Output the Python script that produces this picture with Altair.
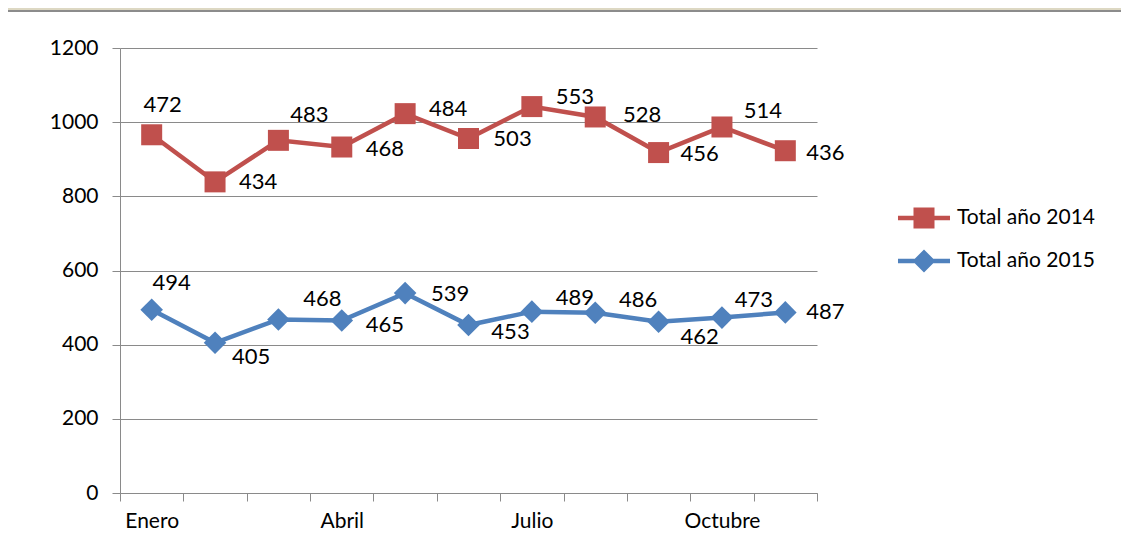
import json
import altair as alt
import pandas as pd

# ---------------- data ----------------
months = ["Enero", "Febrero", "Marzo", "Abril", "Mayo", "Junio",
          "Julio", "Agosto", "Septiembre", "Octubre", "Noviembre"]
total_2014 = [472, 434, 483, 468, 484, 503, 553, 528, 456, 514, 436]
total_2015 = [494, 405, 468, 465, 539, 453, 489, 486, 462, 473, 487]
series = ["Total año 2014", "Total año 2015"]
y_ticks = [0, 200, 400, 600, 800, 1000, 1200]
x_labelled = [0, 3, 6, 9]

# ---------------- layout / style ----------------
W, H = 697, 445
YMAX = 1200
COLORS = ["#c0504d", "#4f81bd"]
FONT = "Lato"
GRID = "#8a8a8a"
px_x = W / len(months)
px_y = H / YMAX

# data-label offsets in pixels (label centre relative to the point)
lbl_dx_2014 = [11, 43, 31, 43, 43, 44, 43, 47, 41, 41, 40]
lbl_dy_2014 = [-30, 0, -25, 2, -5, 1, -10, -2, 1, -16, 2]
lbl_dx_2015 = [20, 36, 44, 43, 45, 42, 43, 43, 41, 32, 40]
lbl_dy_2015 = [-27, 14, -20, 4, 1, 7, -14, -13, 15, -18, 0]

rows = []
for i, m in enumerate(months):
    a, b = total_2014[i], total_2015[i]
    stacked = a + b  # stacked line: 2014 drawn on top of 2015
    rows.append(dict(idx=i, mes=m, serie=series[0], valor=a, y=stacked,
                     lx=i + lbl_dx_2014[i] / px_x, ly=stacked - lbl_dy_2014[i] / px_y))
    rows.append(dict(idx=i, mes=m, serie=series[1], valor=b, y=b,
                     lx=i + lbl_dx_2015[i] / px_x, ly=b - lbl_dy_2015[i] / px_y))
df = pd.DataFrame(rows)

sparse = [m if i in x_labelled else "" for i, m in enumerate(months)] + [""]
label_expr = f"{json.dumps(sparse)}[round(datum.value + 0.5)]"

x_scale = alt.Scale(domain=[-0.5, len(months) - 0.5], nice=False, zero=False)
y_scale = alt.Scale(domain=[0, YMAX], nice=False)
color_scale = alt.Scale(domain=series, range=COLORS)

x_axis = alt.Axis(values=[i - 0.5 for i in range(len(months) + 1)], title=None,
                  labelExpr=label_expr, labelOffset=px_x / 2, labelOverlap=False,
                  labelFlush=False, labelAlign="center",
                  tickSize=8, tickColor=GRID, domainColor=GRID, grid=False,
                  labelFont=FONT, labelFontSize=21, labelColor="black",
                  labelPadding=9)
y_axis = alt.Axis(values=y_ticks, title=None, grid=True, gridColor=GRID, format="d",
                  tickSize=8, tickColor=GRID, domainColor=GRID,
                  labelFont=FONT, labelFontSize=21, labelColor="black",
                  labelPadding=14)

# legend symbols: line + marker (custom paths)
path_sq = "M-2.364,-0.2045H2.364V0.2045H-2.364Z M-0.955,-0.955H0.955V0.955H-0.955Z"
path_di = "M-2.364,-0.2045H2.364V0.2045H-2.364Z M0,-1.045L1.045,0L0,1.045L-1.045,0Z"
legend = alt.Legend(
    title=None, orient="none", legendX=793, legendY=159, padding=0,
    symbolSize=484, symbolStrokeWidth=0, symbolOpacity=1,
    labelFont=FONT, labelFontSize=21,
    labelColor="black", labelOffset=22, rowPadding=20,
)

base = alt.Chart(df)

# legend-only layer (no rows drawn) -- first, so its legend settings win
legend_layer = base.transform_filter("false").mark_point(filled=True, opacity=1).encode(
    x=alt.X("idx:Q", scale=x_scale, axis=x_axis),
    y=alt.Y("y:Q", scale=y_scale, axis=y_axis),
    color=alt.Color("serie:N", scale=color_scale, legend=legend),
    shape=alt.Shape("serie:N", scale=alt.Scale(domain=series, range=[path_sq, path_di]),
                    legend=legend),
)

lines = base.mark_line(strokeWidth=4.5).encode(
    x=alt.X("idx:Q", scale=x_scale, axis=x_axis),
    y=alt.Y("y:Q", scale=y_scale, axis=y_axis),
    color=alt.Color("serie:N", scale=color_scale, legend=None),
    detail="serie:N",
)

pts_2014 = base.transform_filter(alt.datum.serie == series[0]).mark_point(
    shape="square", filled=True, opacity=1, size=441
).encode(x="idx:Q", y="y:Q",
         color=alt.Color("serie:N", scale=color_scale, legend=None))

pts_2015 = base.transform_filter(alt.datum.serie == series[1]).mark_point(
    shape="diamond", filled=True, opacity=1, size=510
).encode(x="idx:Q", y="y:Q",
         color=alt.Color("serie:N", scale=color_scale, legend=None))

labels = base.mark_text(font=FONT, fontSize=22, color="black",
                        align="center", baseline="middle").encode(
    x="lx:Q", y="ly:Q", text="valor:Q")

# frame decoration at the top (Excel window edge)
frame_strip = base.mark_rect(color="#ddd8c3").encode(
    x=alt.value(-130), x2=alt.value(1100), y=alt.value(-50), y2=alt.value(-38))
frame_line = base.mark_rule(color="#8c8c8c", strokeWidth=2).encode(
    x=alt.value(-130), x2=alt.value(1100), y=alt.value(-37))

chart = alt.layer(legend_layer, frame_strip, frame_line, lines, pts_2014, pts_2015,
                  labels).properties(
    width=W, height=H,
    autosize=alt.AutoSizeParams(type="none"),
    padding={"left": 112, "top": 40, "right": 304, "bottom": 38},
    background="white",
).configure_view(stroke=None)

chart.save("out.html", embed_options={"renderer": "svg", "actions": False})
